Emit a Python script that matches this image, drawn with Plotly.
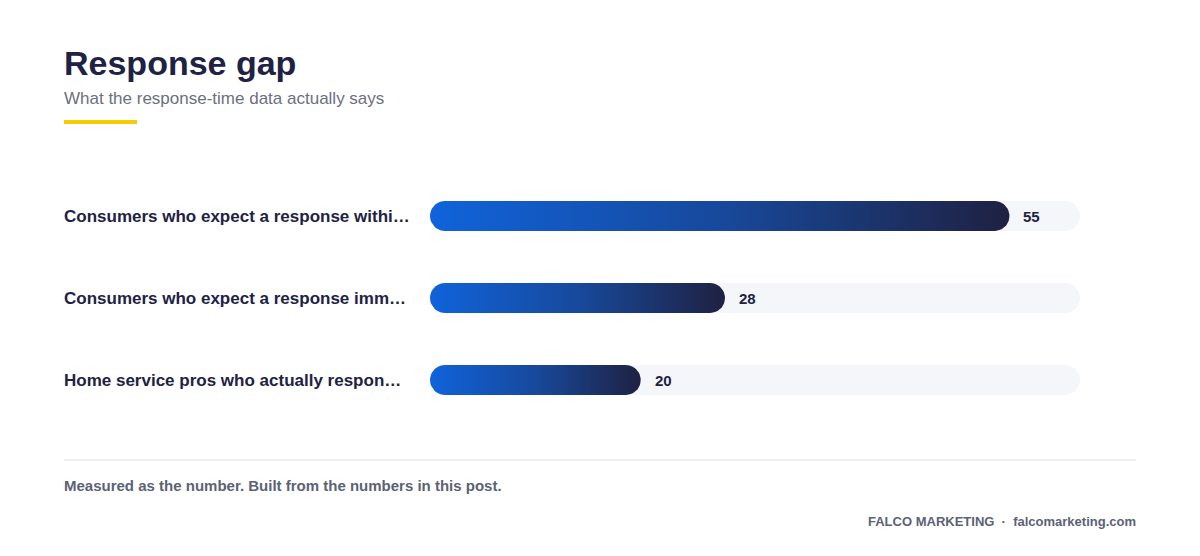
import numpy as np
import plotly.graph_objects as go

# data
labels = [
    "Consumers who expect a response withi\u2026",
    "Consumers who expect a response imm\u2026",
    "Home service pros who actually respon\u2026",
]
values = [55, 28, 20]
x_max = 61.7  # full length of the grey track

W, H = 1200, 556
plot_left, plot_right = 422, 1072     # px
plot_top, plot_bottom = 167, 413      # px
bar_px = 30                           # bar thickness in px

ink = "#1e2244"
grey = "#6b7080"
font = "Liberation Sans, Arial, sans-serif"

# px -> data unit conversions
ux = x_max / (plot_right - plot_left)
uy = 3 / (plot_bottom - plot_top)
rx, ry = (bar_px / 2) * ux, (bar_px / 2) * uy


def pill(x0, x1, yc):
    # rounded capsule outline between x0 and x1 at row yc
    t = np.linspace(np.pi / 2, 3 * np.pi / 2, 25)
    lx = x0 + rx + rx * np.cos(t)
    ly = yc + ry * np.sin(t)
    t2 = np.linspace(-np.pi / 2, np.pi / 2, 25)
    rxs = x1 - rx + rx * np.cos(t2)
    rys = yc + ry * np.sin(t2)
    xs = np.concatenate([lx, rxs, lx[:1]])
    ys = np.concatenate([ly, rys, ly[:1]])
    return xs, ys


def px(x):
    return x / W


def py(y):
    return 1 - y / H


fig = go.Figure()

for i, v in enumerate(values):
    tx, ty = pill(0, x_max, i)
    fig.add_trace(go.Scatter(x=tx, y=ty, fill="toself", mode="lines",
                             line=dict(width=0, color="#f4f6fa"),
                             fillcolor="#f4f6fa", hoverinfo="skip",
                             showlegend=False))
    bx, by = pill(0, v, i)
    fig.add_trace(go.Scatter(x=bx, y=by, fill="toself", mode="lines",
                             line=dict(width=0, color=ink),
                             fillgradient=dict(type="horizontal",
                                               colorscale=[[0, "#1063db"], [0.5, "#17499c"], [1, "#1f2142"]]),
                             hoverinfo="skip", showlegend=False))
    fig.add_annotation(x=v, y=i, xref="x", yref="y", text=f"<b>{v}</b>",
                       showarrow=False, xanchor="left", xshift=12,
                       font=dict(size=15, color=ink, family=font))
    fig.add_annotation(x=px(54), y=i, xref="paper", yref="y", text=f"<b>{labels[i]}</b>",
                       showarrow=False, xanchor="left",
                       font=dict(size=17, color=ink, family=font))

# header / footer
fig.add_annotation(x=px(54), y=py(55), xref="paper", yref="paper", text="<b>Response gap</b>",
                   showarrow=False, xanchor="left", yanchor="middle",
                   font=dict(size=34, color=ink, family=font))
fig.add_annotation(x=px(54), y=py(90), xref="paper", yref="paper",
                   text="What the response-time data actually says",
                   showarrow=False, xanchor="left", yanchor="middle",
                   font=dict(size=17, color=grey, family=font))
fig.add_shape(type="line", xref="paper", yref="paper", x0=px(56), x1=px(129),
              y0=py(114), y1=py(114), line=dict(color="#f6cd00", width=4))
fig.add_shape(type="line", xref="paper", yref="paper", x0=px(56), x1=px(1128),
              y0=py(452), y1=py(452), line=dict(color="#e8eaee", width=1.5))
fig.add_annotation(x=px(54), y=py(477), xref="paper", yref="paper",
                   text="<b>Measured as the number. Built from the numbers in this post.</b>",
                   showarrow=False, xanchor="left", yanchor="middle",
                   font=dict(size=15, color="#5b6275", family=font))
fig.add_annotation(x=px(1130), y=py(513), xref="paper", yref="paper",
                   text="<b>FALCO MARKETING  \u00b7  falcomarketing.com</b>",
                   showarrow=False, xanchor="right", yanchor="middle",
                   font=dict(size=13, color="#5b6275", family=font))

fig.update_layout(
    width=W, height=H,
    margin=dict(l=0, r=0, t=0, b=0),
    paper_bgcolor="white", plot_bgcolor="white",
    xaxis=dict(domain=[px(plot_left), px(plot_right)], range=[0, x_max],
               visible=False, fixedrange=True),
    yaxis=dict(domain=[py(plot_bottom), py(plot_top)], range=[2.5, -0.5],
               visible=False, fixedrange=True),
    showlegend=False,
)

fig.write_html("out.html")
